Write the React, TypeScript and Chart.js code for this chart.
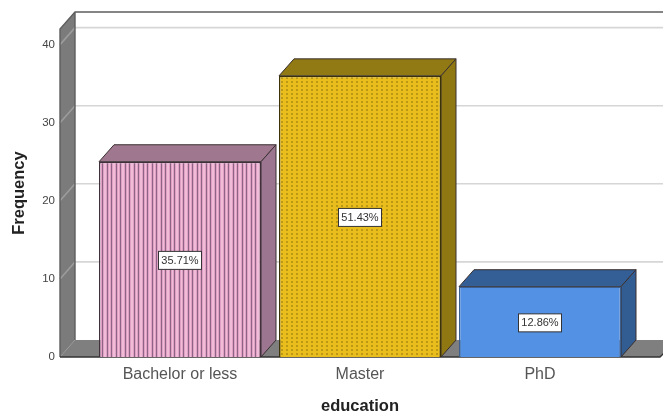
import { useEffect, useRef } from "react";
import { Chart, registerables } from "chart.js";

Chart.register(...registerables);

const categories = ["Bachelor or less", "Master", "PhD"];
const frequencies = [25, 36, 9];
const percentLabels = ["35.71%", "51.43%", "12.86%"];
const yTicks = [0, 10, 20, 30, 40];

const sideColors = ["#9c7590", "#8f7712", "#325d93"];
const topColors = ["#9f7890", "#917a14", "#335f96"];
const FONT = '"Liberation Sans", Arial, sans-serif';

// Offset of the receding faces of the 3D box.
const DEPTH_X = 15;
const DEPTH_Y = 17;

function tile(w: number, h: number, paint: (g: CanvasRenderingContext2D) => void) {
  const c = document.createElement("canvas");
  c.width = w;
  c.height = h;
  const g = c.getContext("2d")!;
  paint(g);
  return document.createElement("canvas").getContext("2d")!.createPattern(c, "repeat")!;
}

const stripes = () =>
  tile(9, 4, (g) => {
    g.fillStyle = "#dfa0c4";
    g.fillRect(0, 0, 9, 4);
    g.fillStyle = "#f0bcd8";
    g.fillRect(1, 0, 1, 4);
    g.fillRect(5, 0, 2, 4);
    g.fillStyle = "#8d6485";
    g.fillRect(3, 0, 1, 4);
    g.fillRect(8, 0, 1, 4);
  });

const dots = () =>
  tile(5, 4, (g) => {
    g.fillStyle = "#e8bd1c";
    g.fillRect(0, 0, 5, 4);
    g.fillStyle = "#bc9814";
    g.fillRect(1, 1, 2, 2);
  });

function poly(ctx: CanvasRenderingContext2D, pts: number[][], fill: string, stroke?: string, lw = 1) {
  ctx.beginPath();
  pts.forEach(([x, y], i) => (i ? ctx.lineTo(x, y) : ctx.moveTo(x, y)));
  ctx.closePath();
  ctx.fillStyle = fill;
  ctx.fill();
  if (stroke) {
    ctx.strokeStyle = stroke;
    ctx.lineWidth = lw;
    ctx.stroke();
  }
}

// Walls, floor and gridlines sit behind the bars.
const boxPlugin = {
  id: "box3d",
  beforeDatasetsDraw(chart: any) {
    const { ctx, scales } = chart;
    const y = scales.y;
    const left = 60;
    const right = 660;
    const bottom = y.getPixelForValue(0);
    const top = y.getPixelForValue(y.max);
    ctx.save();
    poly(ctx, [[left, top], [left + DEPTH_X, top - DEPTH_Y], [left + DEPTH_X, bottom - DEPTH_Y], [left, bottom]], "#7b7b7b");
    poly(
      ctx,
      [[left, bottom], [left + DEPTH_X, bottom - DEPTH_Y], [right + DEPTH_X, bottom - DEPTH_Y], [right, bottom]],
      "#7f7f7f"
    );
    ctx.lineWidth = 1.6;
    yTicks.slice(1).forEach((v) => {
      const py = y.getPixelForValue(v);
      // Faint across the side wall, brighter along the back wall.
      ctx.strokeStyle = "#9c9c9c";
      ctx.beginPath();
      ctx.moveTo(left, py);
      ctx.lineTo(left + DEPTH_X, py - DEPTH_Y);
      ctx.stroke();
      ctx.strokeStyle = "#d6d6d6";
      ctx.beginPath();
      ctx.moveTo(left + DEPTH_X, py - DEPTH_Y);
      ctx.lineTo(chart.width, py - DEPTH_Y);
      ctx.stroke();
    });
    ctx.strokeStyle = "#5e5e5e";
    ctx.lineWidth = 1.4;
    ctx.beginPath();
    ctx.moveTo(left, bottom);
    ctx.lineTo(left, top);
    ctx.lineTo(left + DEPTH_X, top - DEPTH_Y);
    ctx.lineTo(chart.width, top - DEPTH_Y);
    ctx.moveTo(left + DEPTH_X, top - DEPTH_Y);
    ctx.lineTo(left + DEPTH_X, bottom - DEPTH_Y);
    ctx.stroke();
    ctx.strokeStyle = "#333333";
    ctx.beginPath();
    ctx.moveTo(left, bottom);
    ctx.lineTo(right, bottom);
    ctx.lineTo(right + 4, bottom - 4);
    ctx.stroke();

    // Top and side faces of each bar.
    chart.getDatasetMeta(0).data.forEach((bar: any, i: number) => {
      const half = bar.width / 2;
      const l = bar.x - half;
      const r = bar.x + half;
      const t = bar.y;
      const b = bar.base;
      const edge = "#3a3030";
      poly(ctx, [[l, t], [l + DEPTH_X, t - DEPTH_Y], [r + DEPTH_X, t - DEPTH_Y], [r, t]], topColors[i], edge);
      poly(ctx, [[r, t], [r + DEPTH_X, t - DEPTH_Y], [r + DEPTH_X, b - DEPTH_Y], [r, b]], sideColors[i], edge);
    });
    ctx.restore();
  },
  afterDatasetsDraw(chart: any) {
    const { ctx } = chart;
    ctx.save();
    ctx.font = `11px ${FONT}`;
    ctx.textAlign = "center";
    ctx.textBaseline = "middle";
    chart.getDatasetMeta(0).data.forEach((bar: any, i: number) => {
      const cy = (bar.y + bar.base) / 2 + 1;
      const w = 43;
      const h = 18;
      ctx.fillStyle = "#ffffff";
      ctx.strokeStyle = "#333333";
      ctx.lineWidth = 1;
      ctx.fillRect(bar.x - w / 2, cy - h / 2, w, h);
      ctx.strokeRect(bar.x - w / 2, cy - h / 2, w, h);
      ctx.fillStyle = "#333333";
      ctx.fillText(percentLabels[i], bar.x, cy + 0.5);
    });
    ctx.restore();
  },
};

export default function App() {
  const ref = useRef<HTMLCanvasElement>(null);

  useEffect(() => {
    const chart = new Chart(ref.current!, {
      type: "bar",
      plugins: [boxPlugin],
      data: {
        labels: categories,
        datasets: [
          {
            data: frequencies,
            backgroundColor: [stripes(), dots(), "#5291e4"],
            borderColor: ["#40303c", "#3c3208", "#3c5f90"],
            borderWidth: 1.4,
            barPercentage: 0.9,
            categoryPercentage: 1,
          },
        ],
      },
      options: {
        animation: false,
        responsive: false,
        layout: { padding: { top: 29, right: 33, bottom: 0, left: 0 } },
        plugins: { legend: { display: false }, tooltip: { enabled: false } },
        scales: {
          x: {
            afterFit(axis: any) {
              axis.height = 57;
            },
            grid: { display: false },
            border: { display: false },
            ticks: { color: "#555555", font: { family: FONT, size: 16 }, padding: 0, maxRotation: 0 },
            title: {
              display: true,
              text: "education",
              color: "#222222",
              font: { family: FONT, size: 16.5, weight: "bold" },
              padding: { top: 0, bottom: -2 },
            },
          },
          y: {
            min: 0,
            max: 42,
            afterFit(axis: any) {
              // The wide label padding must not shrink the value range.
              axis.width = 90;
              axis.paddingTop = 0;
              axis.paddingBottom = 0;
            },
            grid: { display: false, drawTicks: false },
            border: { display: false },
            afterBuildTicks(axis: any) {
              axis.ticks = yTicks.map((value) => ({ value }));
            },
            ticks: { color: "#444444", font: { family: FONT, size: 11.5 }, padding: 35 },
            title: {
              display: true,
              text: "Frequency",
              color: "#222222",
              font: { family: FONT, size: 16.5, weight: "bold" },
              padding: { top: 10, bottom: 0 },
            },
          },
        },
      },
    } as any);
    return () => chart.destroy();
  }, []);

  return (
    <div style={{ position: "absolute", left: 0, top: 0, background: "#ffffff" }}>
      <canvas ref={ref} width={663} height={414} style={{ display: "block" }} />
    </div>
  );
}
